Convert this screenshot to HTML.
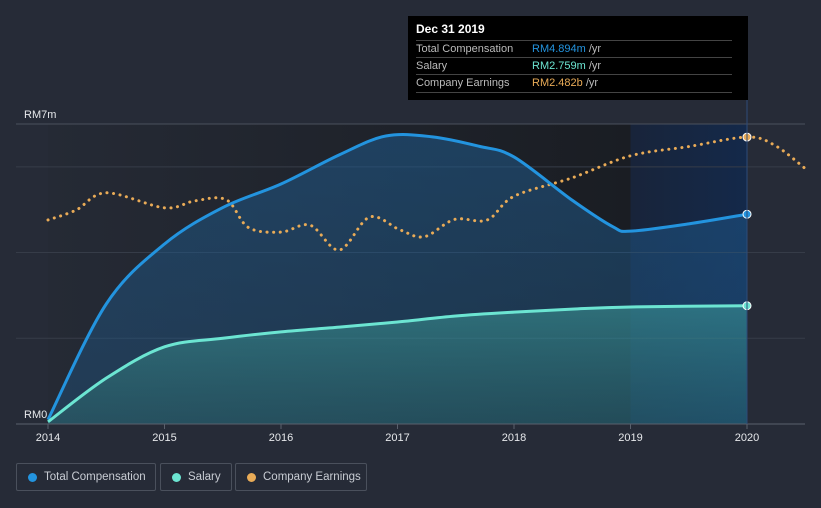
<!DOCTYPE html>
<html><head><meta charset="utf-8"><style>
html,body{margin:0;padding:0;background:#262b37;}
body{width:821px;height:508px;overflow:hidden;font-family:"Liberation Sans",sans-serif;position:relative;}
.legend{position:absolute;top:463px;height:28px;border:1px solid #4a505c;border-radius:2px;box-sizing:border-box;color:#c8ccd3;font-size:11.5px;line-height:26px;padding-left:27px;}
.legend i{position:absolute;left:11px;top:9px;width:9px;height:9px;border-radius:50%;}
.tip{position:absolute;left:408px;top:16px;width:340px;height:84px;background:#000;color:#bbb;font-size:11px;}
.tip .h{position:absolute;left:8px;top:6px;color:#fff;font-weight:bold;font-size:12px;}
.tip .r{position:absolute;left:8px;width:316px;height:17px;border-top:1px solid #444;line-height:17px;}
.tip .r span{position:absolute;left:116px;}
</style></head><body>
<svg id="chart" width="821" height="508" style="position:absolute;left:0;top:0">
<defs>
<linearGradient id="bgplot" x1="0" x2="1" y1="0" y2="0"><stop offset="0" stop-color="#252a35"/><stop offset="1" stop-color="#1a1d23"/></linearGradient>
<linearGradient id="hl" x1="0" x2="1"><stop offset="0" stop-color="#18243a"/><stop offset="1" stop-color="#14294a"/></linearGradient>
<linearGradient id="tcfill" x1="0" x2="0" y1="0" y2="1"><stop offset="0" stop-color="#1f5a8c" stop-opacity="0.55"/><stop offset="1" stop-color="#1f5a8c" stop-opacity="0.35"/></linearGradient>
<linearGradient id="salfill" x1="0" x2="0" y1="0" y2="1"><stop offset="0" stop-color="#3d9c9a" stop-opacity="0.55"/><stop offset="1" stop-color="#2f7a78" stop-opacity="0.35"/></linearGradient>
</defs>
<g id="bg"></g><g id="grid"></g><g id="areas"></g><g id="lines"></g><g id="axis"></g>
</svg>
<div class="tip">
<div class="h">Dec 31 2019</div>
<div class="r" style="top:24px">Total Compensation<span><b style="color:#2394df;font-weight:normal">RM4.894m</b> /yr</span></div>
<div class="r" style="top:41px">Salary<span><b style="color:#6ce5d2;font-weight:normal">RM2.759m</b> /yr</span></div>
<div class="r" style="top:58px;border-bottom:1px solid #444">Company Earnings<span><b style="color:#e9ab57;font-weight:normal">RM2.482b</b> /yr</span></div>
</div>
<div class="legend" style="left:16px;width:140px"><i style="background:#2394df"></i>Total Compensation</div>
<div class="legend" style="left:160px;width:72px"><i style="background:#6ce5d2"></i>Salary</div>
<div class="legend" style="left:235px;width:132px"><i style="background:#e9ab57"></i>Company Earnings</div>
<script>
const xTicks=[2014,2015,2016,2017,2018,2019,2020];
const yTickValues=[0,2,4,6,7];
const yTickLabels={0:"RM0",7:"RM7m"};
const tcYears=[2014,2014.5,2015,2015.5,2016,2016.5,2016.9,2017.3,2017.7,2018,2018.5,2018.85,2019,2019.5,2020];
const tcValues=[0.1,2.8,4.2,5.05,5.6,6.28,6.72,6.7,6.48,6.23,5.22,4.6,4.5,4.67,4.894];
const salYears=[2014,2014.5,2015,2015.5,2016,2016.5,2017,2017.5,2018,2018.5,2019,2020];
const salValues=[0.05,1.07,1.8,2.0,2.15,2.26,2.38,2.52,2.61,2.68,2.73,2.759];
const earnYears=[2014,2014.24,2014.5,2015,2015.26,2015.53,2015.72,2016,2016.25,2016.5,2016.76,2017.02,2017.23,2017.49,2017.77,2018,2018.5,2019,2019.5,2020,2020.24,2020.5];
const earnValues=[1.765,1.85,2.0,1.87,1.93,1.94,1.70,1.66,1.72,1.505,1.79,1.68,1.62,1.77,1.765,1.97,2.13,2.32,2.40,2.482,2.41,2.21];
const X=y=>48+(y-2014)*116.5;
const Y=v=>424-v*42.86;
const YE=v=>424-v*115.6;
const NS="http://www.w3.org/2000/svg";
function mk(parent,tag,attrs){const e=document.createElementNS(NS,tag);for(const k in attrs)e.setAttribute(k,attrs[k]);document.getElementById(parent).appendChild(e);return e;}
function path(xs,ys){const p=xs.map((x,i)=>[x,ys[i]]);let d="M"+p[0][0]+","+p[0][1];
for(let i=0;i<p.length-1;i++){const p0=p[i-1]||p[i],p1=p[i],p2=p[i+1],p3=p[i+2]||p2;
const c1=[p1[0]+(p2[0]-p0[0])/6,p1[1]+(p2[1]-p0[1])/6],c2=[p2[0]-(p3[0]-p1[0])/6,p2[1]-(p3[1]-p1[1])/6];
d+=` C${c1[0]},${c1[1]} ${c2[0]},${c2[1]} ${p2[0]},${p2[1]}`;}return d;}
let e;
e=mk("bg","rect",{x:48,y:124,width:X(2019)-48,height:300,fill:"url(#bgplot)"});

e=mk("bg","rect",{x:X(2019),y:124,width:X(2020)-X(2019),height:300,fill:"url(#hl)"});

yTickValues.forEach(v=>{const g=mk("grid","line",{x1:16,x2:805,y1:Y(v),y2:Y(v),stroke:v==7?"#4a505c":"#363c48","stroke-width":1});

if(yTickLabels[v]){const t=mk("axis","text",{x:24,y:Y(v)-6,fill:"#e6e8eb","font-size":11});t.textContent=yTickLabels[v];
}});
e=mk("axis","line",{x1:16,x2:805,y1:424,y2:424,stroke:"#5a606c"});

xTicks.forEach(y=>{const l=mk("axis","line",{x1:X(y),x2:X(y),y1:424,y2:429,stroke:"#5a606c"});

const t=mk("axis","text",{x:X(y),y:441,fill:"#e6e8eb","font-size":11,"text-anchor":"middle"});t.textContent=y;
});
e=mk("axis","line",{x1:X(2020),x2:X(2020),y1:100,y2:424,stroke:"#2d4b78"});

const tx=tcYears.map(X),ty=tcValues.map(Y),sx=salYears.map(X),sy=salValues.map(Y);
const tcp=path(tx,ty),sp=path(sx,sy);
e=mk("areas","path",{d:tcp+` L${tx[tx.length-1]},424 L${tx[0]},424Z`,fill:"url(#tcfill)"});

e=mk("areas","path",{d:sp+` L${sx[sx.length-1]},424 L${sx[0]},424Z`,fill:"url(#salfill)"});

e=mk("lines","path",{d:path(earnYears.map(X),earnValues.map(YE)),fill:"none",stroke:"#e9ab57","stroke-width":3,"stroke-dasharray":"0.1 6.5","stroke-linecap":"round"});

e=mk("lines","path",{d:tcp,fill:"none",stroke:"#2394df","stroke-width":3});

e=mk("lines","path",{d:sp,fill:"none",stroke:"#6ce5d2","stroke-width":3});

e=mk("lines","circle",{cx:X(2020),cy:Y(tcValues[tcValues.length-1]),r:4,fill:"#2394df",stroke:"#fff","stroke-width":1});

e=mk("lines","circle",{cx:X(2020),cy:Y(salValues[salValues.length-1]),r:4,fill:"#6ce5d2",stroke:"#fff","stroke-width":1});

e=mk("lines","circle",{cx:X(2020),cy:YE(2.482),r:4,fill:"#e9ab57",stroke:"#fff","stroke-width":1});

</script>
</body></html>
